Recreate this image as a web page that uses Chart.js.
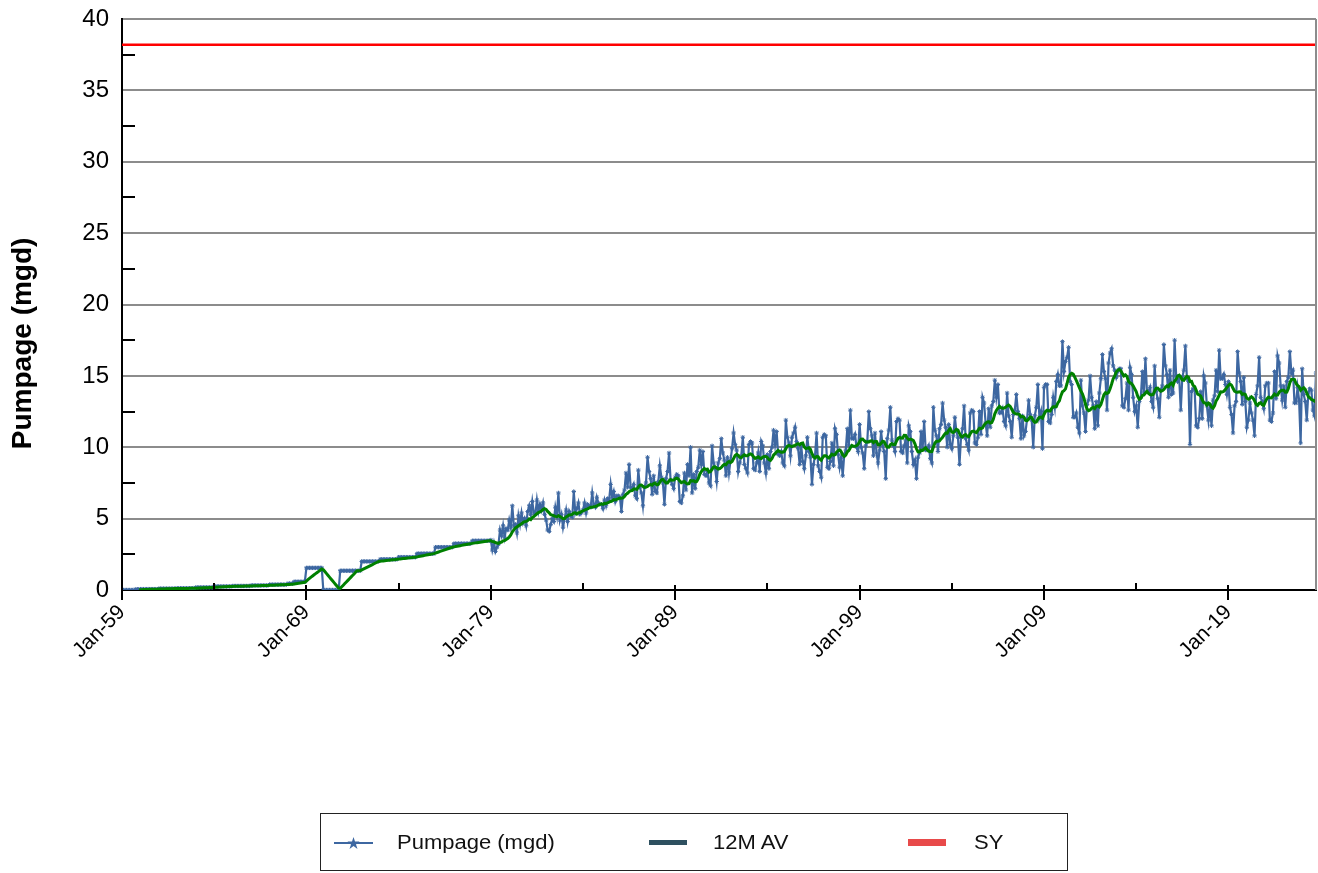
<!DOCTYPE html>
<html>
<head>
<meta charset="utf-8">
<script src="https://cdn.jsdelivr.net/npm/chart.js@4.4.1/dist/chart.umd.min.js"></script>
<style>
  html, body { margin: 0; padding: 0; background: #fff; }
  #wrap { position: relative; width: 1318px; height: 873px; }
  #c { position: absolute; left: 0; top: 0; }
  #legend { position: absolute; left: 320px; top: 813px; width: 748px; height: 58px;
            border: 1.5px solid #222; box-sizing: border-box; font-family: "Liberation Sans", Arial, sans-serif;
            font-size: 20px; color: #111; }
  .sym { position: absolute; }
  .txt { position: absolute; white-space: nowrap; line-height: 1; transform: scaleX(1.1); transform-origin: left center; }
</style>
</head>
<body>
<div id="wrap">
  <canvas id="c" width="1318" height="873"></canvas>
  <div id="legend"></div>
</div>
<script>
// ---------------- DATA ----------------
const startYear = 1959;            // first month = Jan-59
const seriesNames = ['Pumpage (mgd)', '12MAV', 'SY'];
const legendNames = ['Pumpage (mgd)', '12M AV', 'SY'];
const syValue = 38.2;              // safe yield (mgd)
const xTickLabels = ['Jan-59', 'Jan-69', 'Jan-79', 'Jan-89', 'Jan-99', 'Jan-09', 'Jan-19'];
const yTickValues = [0, 5, 10, 15, 20, 25, 30, 35, 40];
const yTitle = 'Pumpage (mgd)';

// monthly pumpage (mgd), Jan-1959 .. Oct-2023, one row per year
const pumpage = [
  0,0,0,0,0,0,0,0,0,0.05,0.05,0.05,
  0.06,0.06,0.06,0.06,0.06,0.06,0.06,0.06,0.06,0.06,0.06,0.06,
  0.1,0.1,0.1,0.1,0.1,0.1,0.1,0.1,0.1,0.1,0.1,0.1,
  0.12,0.12,0.12,0.12,0.12,0.12,0.12,0.12,0.12,0.12,0.12,0.12,
  0.18,0.18,0.18,0.18,0.18,0.18,0.18,0.18,0.18,0.18,0.18,0.18,
  0.25,0.25,0.25,0.25,0.25,0.25,0.25,0.25,0.25,0.25,0.25,0.25,
  0.28,0.28,0.28,0.28,0.28,0.28,0.28,0.28,0.28,0.28,0.28,0.28,
  0.32,0.32,0.32,0.32,0.32,0.32,0.32,0.32,0.32,0.32,0.32,0.32,
  0.38,0.38,0.38,0.38,0.38,0.38,0.38,0.38,0.38,0.38,0.38,0.38,
  0.45,0.45,0.45,0.45,0.58,0.58,0.58,0.58,0.58,0.58,0.58,0.58,
  1.55,1.55,1.55,1.55,1.55,1.55,1.55,1.55,1.55,1.55,1.55,0,
  0,0,0,0,0,0,0,0,0,0,1.35,1.35,
  1.35,1.35,1.35,1.35,1.35,1.35,1.35,1.35,1.35,1.35,1.35,1.35,
  2.0,2.0,2.0,2.0,2.0,2.0,2.0,2.0,2.0,2.0,2.0,2.0,
  2.15,2.15,2.15,2.15,2.15,2.15,2.15,2.15,2.15,2.15,2.15,2.15,
  2.3,2.3,2.3,2.3,2.3,2.3,2.3,2.3,2.3,2.3,2.3,2.3,
  2.55,2.55,2.55,2.55,2.55,2.55,2.55,2.55,2.55,2.55,2.55,2.55,
  3.0,3.0,3.0,3.0,3.0,3.0,3.0,3.0,3.0,3.0,3.0,3.0,
  3.25,3.25,3.25,3.25,3.25,3.25,3.25,3.25,3.25,3.25,3.25,3.25,
  3.45,3.45,3.45,3.45,3.45,3.45,3.45,3.45,3.45,3.45,3.45,3.45,
  3.5,2.8,3.3,2.7,3.0,3.2, 4.2,3.8,4.5,3.7,4.3,4.2,
  4.9,4.4,5.9,4.5,4.6,4.0, 5.2,4.6,5.4,4.7,5.0,4.5,
  5.5,5.9,5.3,6.2,5.4,5.3, 6.3,5.5,6.0,5.6,6.1,5.3,
  4.9,4.2,4.1,4.6,5.0,4.8, 5.8,5.2,6.8,4.9,5.3,4.4,
  5.0,5.6,4.8,5.5,5.2,5.1, 6.9,5.4,5.7,6.1,5.3,5.4,
  5.6,6.1,5.4,6.0,5.9,5.8, 6.8,6.0,5.8,6.5,6.1,6.0,
  6.0,5.7,6.3,5.9,6.4,6.3, 7.4,6.5,6.9,6.2,6.6,6.6,
  6.5,5.5,6.7,7.0,8.2,7.2, 8.8,7.2,7.1,7.4,6.6,6.4,
  8.4,7.2,6.8,5.9,7.2,7.5, 9.3,8.3,7.8,6.7,8.0,6.9,
  6.8,7.6,8.7,7.9,7.5,6.0, 7.8,8.3,9.6,7.7,7.4,7.1,
  7.9,8.1,8.0,6.2,6.1,6.6, 8.2,7.0,8.8,8.0,10.0,6.8,
  8.1,7.1,8.3,8.6,9.8,8.8, 9.7,8.1,8.0,8.3,7.5,7.3,
  10.1,8.9,8.5,7.6,8.9,9.2, 10.6,9.6,9.1,8.0,9.3,8.2,
  9.1,9.9,11.0,10.2,9.8,8.3, 8.9,9.4,10.7,8.8,8.5,8.2,
  10.2,10.4,10.3,8.5,8.4,8.9, 9.6,8.3,10.4,10.1,8.9,8.2,
  9.5,8.5,9.7,10.0,11.2,10.2, 11.1,9.5,9.4,9.7,8.9,8.7,
  11.9,10.7,10.3,9.4,10.7,11.0, 11.4,10.4,9.9,8.8,10.1,9.0,
  8.5,9.4,10.7,9.7,9.3,7.4, 8.8,9.4,11.0,8.7,8.3,7.9,
  10.7,10.9,10.8,8.6,8.5,9.0, 10.3,8.7,11.3,10.9,9.5,8.6,
  9.3,8.0,9.5,9.8,11.3,10.1, 12.6,10.6,10.6,10.9,10.0,9.7,
  11.6,10.0,9.6,8.5,10.1,10.4, 12.5,11.3,10.8,9.4,11.0,9.6,
  8.9,9.8,11.1,10.1,9.7,7.8, 10.6,11.2,12.8,10.5,10.1,9.7,
  11.8,12.0,11.9,9.7,9.6,10.1, 10.5,8.9,11.5,11.1,9.7,8.8,
  9.1,7.8,9.3,9.6,11.1,9.9, 11.8,9.8,9.8,10.1,9.2,8.9,
  12.8,11.2,10.8,9.7,11.3,11.6, 13.1,11.9,11.4,10.0,11.6,10.2,
  9.9,10.8,12.1,11.1,10.7,8.8, 10.7,11.3,12.9,10.6,10.2,9.8,
  12.4,12.6,12.5,10.3,10.2,10.7, 12.5,10.9,13.5,13.1,11.7,10.8,
  12.7,11.4,12.9,13.2,14.7,13.5, 14.4,12.4,12.4,12.7,11.8,11.5,
  13.8,12.2,11.8,10.7,12.3,12.6, 13.7,12.5,12.0,10.6,12.2,10.8,
  11.1,12.0,13.3,12.3,11.9,10.0, 12.2,12.8,14.4,12.1,12.5,9.9,
  14.2,14.4,14.4,11.8,11.7,12.3, 13.5,12.8,14.6,15.1,14.3,14.3,
  17.4,15.3,16.0,16.3,17.0,14.6, 14.4,12.1,12.1,12.4,11.4,11.0,
  14.7,12.9,12.4,11.1,13.0,13.3, 15.0,13.5,12.9,11.3,13.2,11.5,
  13.8,14.8,16.5,15.3,14.8,12.6, 15.9,16.6,16.9,15.7,15.4,14.9,
  15.3,15.5,15.5,12.9,12.8,13.4, 14.5,12.6,15.6,15.1,13.5,12.5,
  12.9,11.4,13.2,13.5,15.3,13.8, 16.2,13.9,13.9,14.2,13.2,12.8,
  15.7,13.9,13.4,12.1,14.0,14.3, 17.2,15.7,15.1,13.5,15.4,13.7,
  13.8,17.5,15.0,14.6,14.8,12.6, 14.9,15.4,17.1,14.8,14.6,10.2,
  13.9,14.1,14.1,11.5,11.4,12.0, 13.9,12.0,15.0,14.5,12.9,11.9,
  13.0,11.5,13.3,13.6,15.4,13.9, 16.8,14.8,14.8,15.1,14.4,13.7,
  14.6,12.8,12.3,11.0,12.9,13.2, 16.7,15.2,14.6,13.0,14.9,13.2,
  11.4,11.9,13.1,12.4,11.9,10.8, 13.7,14.3,16.3,13.5,13.2,12.7,
  14.3,14.5,14.5,11.9,11.8,12.4, 15.3,13.4,16.4,15.9,14.3,13.3,
  14.3,12.8,14.6,14.9,16.7,15.2, 15.4,13.1,13.1,14.2,13.3,10.3,
  15.5,13.7,13.2,11.9,13.8,14.1, 14.0,12.6,12.2,15.2
];

// ---------------- DERIVED ----------------
const lastIdx = pumpage.length - 1;
// 12-month trailing moving average of the pumpage
const mav12 = pumpage.map((v, i) => {
  if (i < 11) return null;
  let s = 0; for (let k = i - 11; k <= i; k++) s += pumpage[k];
  return s / 12;
});
const pumpPts = pumpage.map((v, i) => ({ x: i, y: v }));
const mavPts = mav12.map((v, i) => ({ x: i, y: v }));
const syPts = [{ x: 0, y: syValue }, { x: lastIdx, y: syValue }];

const FONT = '"Liberation Sans", Arial, sans-serif';
const BLUE = '#3d67a1', GREEN = '#008000', RED = '#ff0000';

const tickMarks = {
  id: 'tickMarks',
  afterDraw(chart) {
    const { ctx, chartArea: a, scales: { x, y } } = chart;
    ctx.save();
    ctx.strokeStyle = '#000'; ctx.lineWidth = 2;
    for (let v = 0; v <= lastIdx; v += 60) {
      const px = Math.round(x.getPixelForValue(v));
      ctx.beginPath();
      if (v % 120 === 0) { ctx.moveTo(px, a.bottom - 5); ctx.lineTo(px, a.bottom + 10); }
      else { ctx.moveTo(px, a.bottom - 7); ctx.lineTo(px, a.bottom); }
      ctx.stroke();
    }
    for (let v = 2.5; v < 40; v += 5) {
      const py = Math.round(y.getPixelForValue(v));
      ctx.beginPath(); ctx.moveTo(a.left, py); ctx.lineTo(a.left + 13, py); ctx.stroke();
    }
    ctx.strokeStyle = '#8c8c8c'; ctx.lineWidth = 2;
    ctx.beginPath(); ctx.moveTo(a.right, a.top); ctx.lineTo(a.right, a.bottom); ctx.stroke();
    ctx.restore();
  }
};

new Chart(document.getElementById('c'), {
  type: 'line',
  data: {
    datasets: [
      { label: seriesNames[0], data: pumpPts, borderColor: BLUE, backgroundColor: BLUE, borderWidth: 2.2,
        pointStyle: 'star', pointRadius: 2.2, pointBorderWidth: 1, pointBorderColor: BLUE, tension: 0, order: 3 },
      { label: seriesNames[1], data: mavPts, borderColor: GREEN, borderWidth: 3, pointRadius: 0, tension: 0, order: 2, spanGaps: false },
      { label: seriesNames[2], data: syPts, borderColor: RED, borderWidth: 2.5, pointRadius: 0, order: 1 }
    ]
  },
  options: {
    responsive: false, animation: false, events: [],
    layout: { autoPadding: false, padding: { left: 0, right: 2, top: 19, bottom: 0 } },
    plugins: { legend: { display: false }, tooltip: { enabled: false } },
    scales: {
      x: {
        type: 'linear', min: 0, max: lastIdx,
        afterFit: s => { s.height = 283; },
        border: { display: true, color: '#000', width: 2 },
        grid: { display: false, drawTicks: false },
        ticks: {
          stepSize: 120, includeBounds: false, autoSkip: false, maxRotation: 45, minRotation: 45,
          padding: 10, color: '#000', font: { family: FONT, size: 21 },
          callback: v => (v % 120 === 0 ? xTickLabels[v / 120] : '')
        }
      },
      y: {
        min: 0, max: 40,
        afterFit: s => { s.width = 122; s.paddingTop = 0; s.paddingBottom = 0; },
        border: { display: true, color: '#000', width: 2 },
        grid: { drawTicks: false, lineWidth: 2,
                color: c => (c.tick && c.tick.value > 0 && yTickValues.includes(c.tick.value)) ? '#8c8c8c' : 'rgba(0,0,0,0)' },
        ticks: { stepSize: 5, padding: 13, color: '#000', font: { family: FONT, size: 24 },
                 callback: v => (yTickValues.includes(v) ? String(v) : '') },
        title: { display: true, text: yTitle + '          ', color: '#000', padding: { top: 6, bottom: 0 },
                 font: { family: FONT, size: 28, weight: 'bold' } }
      }
    }
  },
  plugins: [tickMarks]
});

// ---------------- LEGEND (HTML) ----------------
const lg = document.getElementById('legend');
function addItem(symLeft, symHtml, txtLeft, text) {
  const s = document.createElement('div'); s.className = 'sym'; s.style.left = symLeft + 'px'; s.style.top = '0px';
  s.innerHTML = symHtml; lg.appendChild(s);
  const t = document.createElement('div'); t.className = 'txt'; t.style.left = txtLeft + 'px'; t.style.top = '18px';
  t.textContent = text; lg.appendChild(t);
}
addItem(12, '<svg width="42" height="57"><line x1="1" y1="29" x2="40" y2="29" stroke="' + BLUE + '" stroke-width="2"/>' +
  '<polygon points="20.5,23 22,27.5 26.5,27.5 23,30.5 24.5,35 20.5,32 16.5,35 18,30.5 14.5,27.5 19,27.5" fill="' + BLUE + '"/></svg>',
  76, legendNames[0]);
addItem(327, '<svg width="42" height="57"><rect x="1" y="26" width="38" height="5" fill="#2e5060"/></svg>', 392, legendNames[1]);
addItem(586, '<svg width="42" height="57"><rect x="1" y="25" width="38" height="7" fill="#e84a4a"/></svg>', 653, legendNames[2]);
</script>
</body>
</html>
